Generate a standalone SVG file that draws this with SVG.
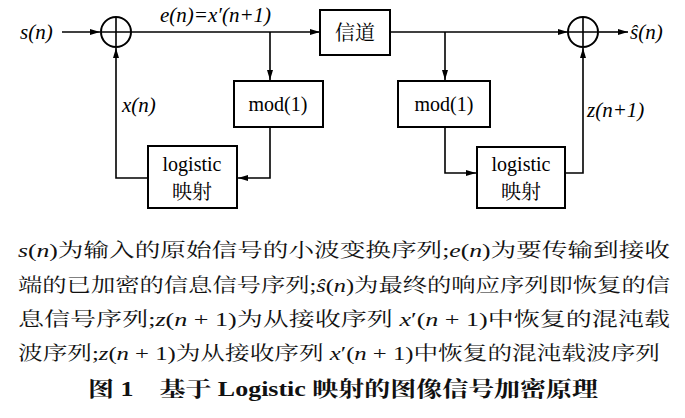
<svg xmlns="http://www.w3.org/2000/svg" width="685" height="418" viewBox="0 0 685 418">
<style>
.b{fill:#fff;stroke:#000;stroke-width:2}
.l{fill:none;stroke:#000;stroke-width:1.6}
.i{font-style:italic}
.p{font-family:"Liberation Serif","Noto Serif CJK SC","Noto Sans CJK SC",serif;font-size:19px;fill:#111}
</style>
<defs><marker id="a" viewBox="0 0 10 6" refX="10" refY="3" markerWidth="10" markerHeight="6" markerUnits="userSpaceOnUse" orient="auto"><path d="M0,0L10,3L0,6z"/></marker></defs>
<rect width="685" height="418" fill="#fff"/>
<g id="connectors" class="l">
<line x1="62" y1="32" x2="100" y2="32" marker-end="url(#a)"/>
<line x1="131" y1="32" x2="320" y2="32" marker-end="url(#a)"/>
<line x1="270" y1="32" x2="270" y2="80" marker-end="url(#a)"/>
<polyline points="270,127 270,178 238,178" marker-end="url(#a)"/>
<polyline points="148,178 116,178 116,48" marker-end="url(#a)"/>
<line x1="390" y1="32" x2="568" y2="32" marker-end="url(#a)"/>
<line x1="445" y1="32" x2="445" y2="80" marker-end="url(#a)"/>
<polyline points="445,127 445,173 476,173" marker-end="url(#a)"/>
<polyline points="565,173 583,173 583,48" marker-end="url(#a)"/>
<line x1="599" y1="32" x2="628" y2="32" marker-end="url(#a)"/>
</g>
<g id="sum1"><circle cx="116" cy="32" r="15" class="b"/><path class="l" d="M101,32H131M116,17V47"/></g>
<g id="sum2"><circle cx="583" cy="32" r="15" class="b"/><path class="l" d="M568,32H598M583,17V47"/></g>
<g class="p" style="font-size:20px;fill:#000" text-anchor="middle">
<g id="channel"><rect x="320" y="10" width="70" height="45" class="b"/><text x="355" y="40">信道</text></g>
<g id="mod1"><rect x="234" y="81" width="89" height="46" class="b"/><text x="278" y="111">mod(1)</text></g>
<g id="log1"><rect x="148" y="146" width="89" height="62" class="b"/><text x="192" y="171">logistic</text><text x="192" y="199">映射</text></g>
<g id="mod2"><rect x="398" y="81" width="92" height="46" class="b"/><text x="444" y="111">mod(1)</text></g>
<g id="log2"><rect x="477" y="147" width="88" height="61" class="b"/><text x="521" y="171">logistic</text><text x="521" y="199">映射</text></g>
</g>
<g id="labels" class="p" style="font-size:21px;fill:#000;font-style:italic">
<text x="20" y="39">s(n)</text>
<text x="160" y="22">e(n)=x′(n+1)</text>
<text x="122" y="112">x(n)</text>
<text x="587" y="117">z(n+1)</text>
<text x="630" y="39">ŝ(n)</text>
</g>
<g id="caption">
<text x="18" y="257" class="p" textLength="652" lengthAdjust="spacingAndGlyphs"><tspan class="i">s</tspan>(<tspan class="i">n</tspan>)为输入的原始信号的小波变换序列;<tspan class="i">e</tspan>(<tspan class="i">n</tspan>)为要传输到接收</text>
<text x="18" y="292" class="p" textLength="652" lengthAdjust="spacingAndGlyphs">端的已加密的信息信号序列;<tspan class="i">ŝ</tspan>(<tspan class="i">n</tspan>)为最终的响应序列即恢复的信</text>
<text x="18" y="326" class="p" textLength="652" lengthAdjust="spacingAndGlyphs">息信号序列;<tspan class="i">z</tspan>(<tspan class="i">n</tspan> + 1)为从接收序列 <tspan class="i">x</tspan>′(<tspan class="i">n</tspan> + 1)中恢复的混沌载</text>
<text x="18" y="360" class="p" textLength="642" lengthAdjust="spacingAndGlyphs">波序列;<tspan class="i">z</tspan>(<tspan class="i">n</tspan> + 1)为从接收序列 <tspan class="i">x</tspan>′(<tspan class="i">n</tspan> + 1)中恢复的混沌载波序列</text>
<text x="88" y="396" class="p" style="font-weight:bold;font-size:21px" textLength="510" lengthAdjust="spacingAndGlyphs">图 1　基于 Logistic 映射的图像信号加密原理</text>
</g>
</svg>
